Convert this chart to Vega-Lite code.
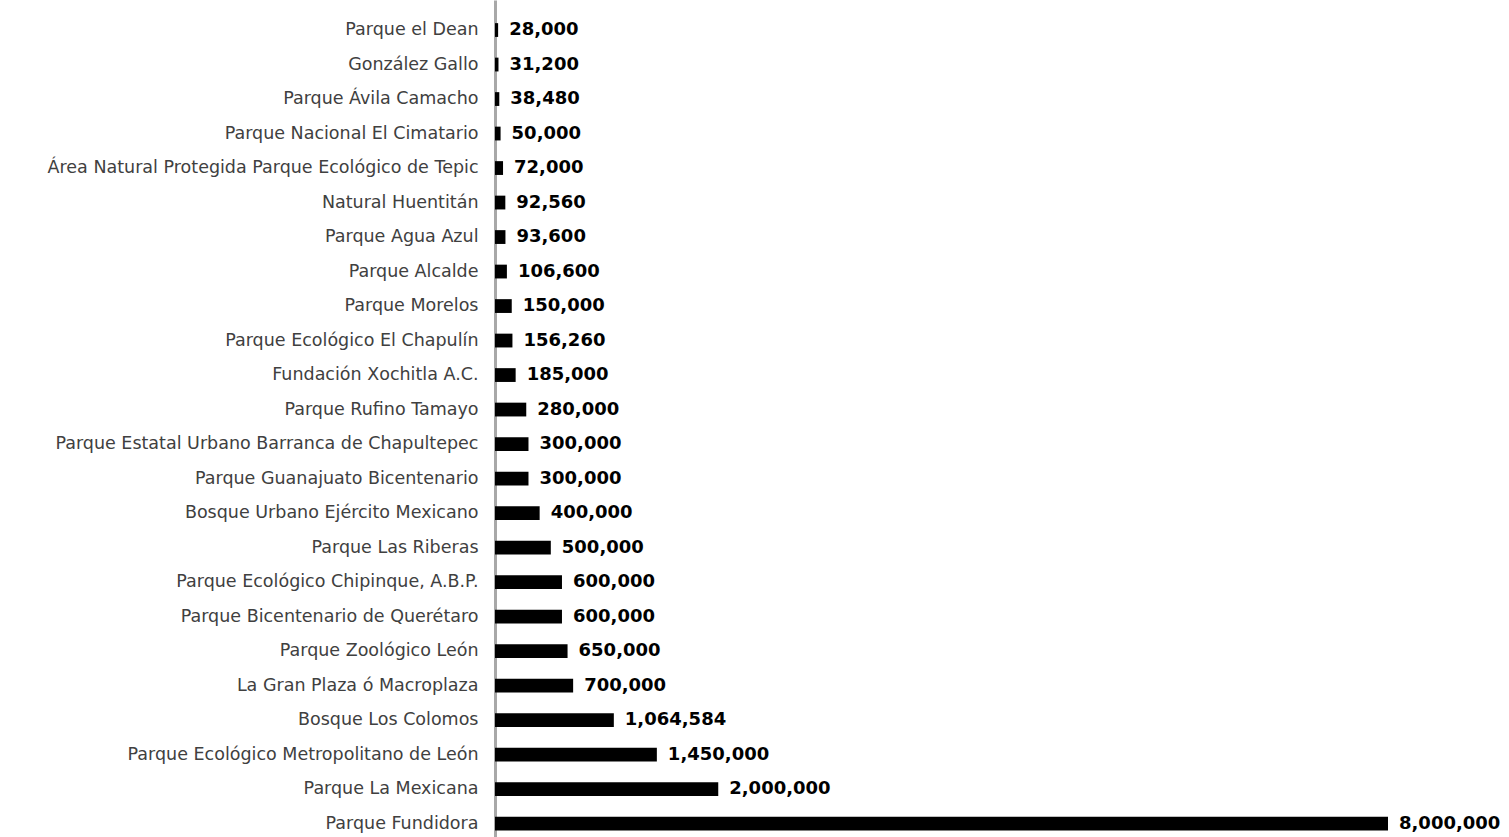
{
  "$schema": "https://vega.github.io/schema/vega-lite/v6.json",
  "autosize": {"type": "none"},
  "padding": {"left": 495, "top": 0, "right": 121, "bottom": 0},
  "width": 893,
  "height": 837,
  "background": "white",
  "config": {"view": {"stroke": null}},
  "data": {"values": [
    {"parque": "Parque el Dean ", "visitantes": 28000},
    {"parque": "González Gallo", "visitantes": 31200},
    {"parque": "Parque Ávila Camacho ", "visitantes": 38480},
    {"parque": "Parque Nacional El Cimatario", "visitantes": 50000},
    {"parque": "Área Natural Protegida Parque Ecológico de Tepic ", "visitantes": 72000},
    {"parque": "Natural Huentitán ", "visitantes": 92560},
    {"parque": "Parque Agua Azul", "visitantes": 93600},
    {"parque": "Parque Alcalde", "visitantes": 106600},
    {"parque": "Parque Morelos ", "visitantes": 150000},
    {"parque": "Parque Ecológico El Chapulín", "visitantes": 156260},
    {"parque": "Fundación Xochitla A.C.", "visitantes": 185000},
    {"parque": "Parque Rufino Tamayo", "visitantes": 280000},
    {"parque": "Parque Estatal Urbano Barranca de Chapultepec", "visitantes": 300000},
    {"parque": "Parque Guanajuato Bicentenario ", "visitantes": 300000},
    {"parque": "Bosque Urbano Ejército Mexicano", "visitantes": 400000},
    {"parque": "Parque Las Riberas", "visitantes": 500000},
    {"parque": "Parque Ecológico Chipinque, A.B.P.", "visitantes": 600000},
    {"parque": "Parque Bicentenario de Querétaro", "visitantes": 600000},
    {"parque": "Parque Zoológico León", "visitantes": 650000},
    {"parque": "La Gran Plaza ó Macroplaza", "visitantes": 700000},
    {"parque": "Bosque Los Colomos", "visitantes": 1064584},
    {"parque": "Parque Ecológico Metropolitano de León", "visitantes": 1450000},
    {"parque": "Parque La Mexicana", "visitantes": 2000000},
    {"parque": "Parque Fundidora", "visitantes": 8000000}
  ]},
  "encoding": {
    "y": {
      "field": "parque", "type": "nominal", "sort": null,
      "scale": {"paddingInner": 0.6, "paddingOuter": 0.43, "align": 0.78},
      "axis": {
        "title": null, "ticks": false, "labelFont": "DejaVu Sans", "labelFontSize": 17.5,
        "labelColor": "#404040", "labelPadding": 17, "labelLimit": 600,
        "domainColor": "#a8a8a8", "domainWidth": 3
      }
    },
    "x": {
      "field": "visitantes", "type": "quantitative",
      "scale": {"domain": [0, 8000000], "nice": false},
      "axis": null
    }
  },
  "layer": [
    {"mark": {"type": "bar", "color": "black", "clip": false}},
    {"mark": {"type": "text", "align": "left", "dx": 11, "font": "DejaVu Sans", "fontWeight": "bold", "fontSize": 18, "color": "black", "clip": false},
     "encoding": {"text": {"field": "visitantes", "type": "quantitative", "format": ","}}}
  ]
}
